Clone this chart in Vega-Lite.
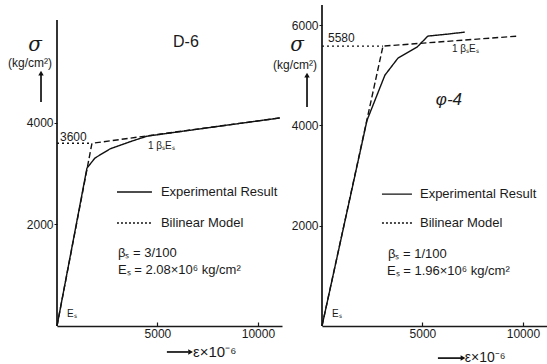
{
  "$schema": "https://vega.github.io/schema/vega-lite/v6.json",
  "padding": {"left": 8, "top": 4, "right": 0, "bottom": 0},
  "background": "white",
  "spacing": 40,
  "bounds": "flush",
  "config": {
    "view": {"stroke": null},
    "font": "Liberation Sans",
    "axis": {"grid": false, "format": "d", "labelFont": "Liberation Sans", "labelFontSize": 12, "labelColor": "#1a1a1a", "tickColor": "#1a1a1a", "domainColor": "#1a1a1a"},
    "axisX": {"domainWidth": 1.5, "tickSize": -4, "labelPadding": 6, "tickWidth": 1.2, "labelFlush": false},
    "axisY": {"domain": false, "tickSize": 3, "labelPadding": 1, "tickWidth": 1}
  },
  "datasets": {
    "lines": [
      {"panel": "D-6", "series": "exp", "strain": 0, "stress": 0},
      {"panel": "D-6", "series": "exp", "strain": 1490, "stress": 3110},
      {"panel": "D-6", "series": "exp", "strain": 1890, "stress": 3310},
      {"panel": "D-6", "series": "exp", "strain": 2640, "stress": 3490},
      {"panel": "D-6", "series": "exp", "strain": 3630, "stress": 3630},
      {"panel": "D-6", "series": "exp", "strain": 4480, "stress": 3740},
      {"panel": "D-6", "series": "exp", "strain": 7500, "stress": 3905},
      {"panel": "D-6", "series": "exp", "strain": 11100, "stress": 4100},
      {"panel": "D-6", "series": "bilin", "strain": 0, "stress": 0},
      {"panel": "D-6", "series": "bilin", "strain": 1740, "stress": 3600},
      {"panel": "D-6", "series": "bilin", "strain": 11100, "stress": 4100},
      {"panel": "D-6", "series": "ref", "strain": 0, "stress": 3600},
      {"panel": "D-6", "series": "ref", "strain": 1740, "stress": 3600},
      {"panel": "D-6", "series": "legExp", "strain": 2985, "stress": 2640},
      {"panel": "D-6", "series": "legExp", "strain": 4726, "stress": 2640},
      {"panel": "D-6", "series": "legBil", "strain": 2985, "stress": 2030},
      {"panel": "D-6", "series": "legBil", "strain": 4726, "stress": 2030},
      {"panel": "φ-4", "series": "exp", "strain": 0, "stress": 0},
      {"panel": "φ-4", "series": "exp", "strain": 2240, "stress": 4100},
      {"panel": "φ-4", "series": "exp", "strain": 3130, "stress": 5000},
      {"panel": "φ-4", "series": "exp", "strain": 3780, "stress": 5340},
      {"panel": "φ-4", "series": "exp", "strain": 4730, "stress": 5560},
      {"panel": "φ-4", "series": "exp", "strain": 5270, "stress": 5780},
      {"panel": "φ-4", "series": "exp", "strain": 6270, "stress": 5820},
      {"panel": "φ-4", "series": "exp", "strain": 7110, "stress": 5860},
      {"panel": "φ-4", "series": "bilin", "strain": 0, "stress": 0},
      {"panel": "φ-4", "series": "bilin", "strain": 3035, "stress": 5580},
      {"panel": "φ-4", "series": "bilin", "strain": 9750, "stress": 5780},
      {"panel": "φ-4", "series": "ref", "strain": 0, "stress": 5580},
      {"panel": "φ-4", "series": "ref", "strain": 3035, "stress": 5580},
      {"panel": "φ-4", "series": "legExp", "strain": 2985, "stress": 2630},
      {"panel": "φ-4", "series": "legExp", "strain": 4478, "stress": 2630},
      {"panel": "φ-4", "series": "legBil", "strain": 2985, "stress": 2053},
      {"panel": "φ-4", "series": "legBil", "strain": 4478, "stress": 2053}
    ],
    "rules": [
      {"panel": "D-6", "kind": "yaxis", "strain": 0, "stress": 0, "strain2": 0, "stress2": 6030},
      {"panel": "D-6", "kind": "yarrow", "strain": -796, "stress": 4414, "strain2": -796, "stress2": 4960},
      {"panel": "D-6", "kind": "xarrow", "strain": 5470, "stress": -512, "strain2": 6550, "stress2": -512},
      {"panel": "φ-4", "kind": "yaxis", "strain": 0, "stress": 0, "strain2": 0, "stress2": 6400},
      {"panel": "φ-4", "kind": "yarrow", "strain": -746, "stress": 4365, "strain2": -746, "stress2": 4980},
      {"panel": "φ-4", "kind": "xarrow", "strain": 5770, "stress": -640, "strain2": 6920, "stress2": -640}
    ],
    "heads": [
      {"panel": "D-6", "dir": "up", "strain": -796, "stress": 4985},
      {"panel": "D-6", "dir": "right", "strain": 6650, "stress": -512},
      {"panel": "φ-4", "dir": "up", "strain": -746, "stress": 5003},
      {"panel": "φ-4", "dir": "right", "strain": 7020, "stress": -640}
    ],
    "notes": [
      {"panel": "D-6", "role": "title", "label": "D-6", "strain": 6418, "stress": 5596},
      {"panel": "D-6", "role": "tick", "label": "3600", "strain": 150, "stress": 3724},
      {"panel": "D-6", "role": "small", "label": "1  βₛEₛ", "strain": 4530, "stress": 3540},
      {"panel": "D-6", "role": "small", "label": "Eₛ", "strain": 500, "stress": 236},
      {"panel": "D-6", "role": "note", "label": "Experimental Result", "strain": 5174, "stress": 2640},
      {"panel": "D-6", "role": "note", "label": "Bilinear Model", "strain": 5174, "stress": 2030},
      {"panel": "D-6", "role": "note", "label": "βₛ = 3/100", "strain": 3035, "stress": 1438},
      {"panel": "D-6", "role": "note", "label": "Eₛ = 2.08×10⁶ kg/cm²", "strain": 3035, "stress": 1103},
      {"panel": "D-6", "role": "sigma", "label": "σ", "strain": -1095, "stress": 5537},
      {"panel": "D-6", "role": "unit", "label": "(kg/cm²)", "strain": -1343, "stress": 5182},
      {"panel": "D-6", "role": "eps", "label": "ε×10⁻⁶", "strain": 6770, "stress": -512},
      {"panel": "φ-4", "role": "title", "label": "φ-4", "strain": 6318, "stress": 4505},
      {"panel": "φ-4", "role": "tick", "label": "5580", "strain": 300, "stress": 5740},
      {"panel": "φ-4", "role": "small", "label": "1  βₛEₛ", "strain": 6468, "stress": 5530},
      {"panel": "φ-4", "role": "small", "label": "Eₛ", "strain": 500, "stress": 240},
      {"panel": "φ-4", "role": "note", "label": "Experimental Result", "strain": 4876, "stress": 2631},
      {"panel": "φ-4", "role": "note", "label": "Bilinear Model", "strain": 4876, "stress": 2053},
      {"panel": "φ-4", "role": "note", "label": "βₛ = 1/100", "strain": 3284, "stress": 1435},
      {"panel": "φ-4", "role": "note", "label": "Eₛ = 1.96×10⁶ kg/cm²", "strain": 3234, "stress": 1096},
      {"panel": "φ-4", "role": "sigma", "label": "σ", "strain": -1244, "stress": 5601},
      {"panel": "φ-4", "role": "unit", "label": "(kg/cm²)", "strain": -1340, "stress": 5202},
      {"panel": "φ-4", "role": "eps", "label": "ε×10⁻⁶", "strain": 7110, "stress": -640}
    ]
  },
  "hconcat": [
    {
      "width": 225,
      "height": 321,
      "encoding": {
        "x": {"field": "strain", "type": "quantitative", "scale": {"domain": [0, 11200], "nice": false, "zero": false}, "axis": {"values": [5000, 10000]}, "title": null},
        "y": {"field": "stress", "type": "quantitative", "scale": {"domain": [0, 6325], "nice": false, "zero": false}, "axis": {"values": [2000, 4000]}, "title": null}
      },
      "layer": [
        {"data": {"name": "lines"}, "transform": [{"filter": "datum.panel==='D-6'"}], "mark": {"type": "line", "color": "#111", "strokeWidth": 1.4},
         "encoding": {"strokeDash": {"field": "series", "type": "nominal", "scale": {"domain": ["exp", "bilin", "ref", "legExp", "legBil"], "range": [[1, 0], [6, 3], [2, 3], [1, 0], [2, 2]]}, "legend": null}}},
        {"data": {"name": "rules"}, "transform": [{"filter": "datum.panel==='D-6'"}], "mark": {"type": "rule", "color": "#111", "strokeWidth": 1.7},
         "encoding": {"x2": {"field": "strain2"}, "y2": {"field": "stress2"}}},
        {"data": {"name": "heads"}, "transform": [{"filter": "datum.panel==='D-6'"}], "mark": {"type": "point", "filled": true, "color": "#111", "size": 30, "opacity": 1},
         "encoding": {"shape": {"field": "dir", "type": "nominal", "scale": {"domain": ["up", "right"], "range": ["triangle-up", "triangle-right"]}, "legend": null}}},
        {"data": {"name": "notes"}, "transform": [{"filter": "datum.panel==='D-6' && datum.role==='title'"}], "mark": {"type": "text", "align": "center", "baseline": "middle", "fontSize": 16, "color": "#1a1a1a"}, "encoding": {"text": {"field": "label"}}},
        {"data": {"name": "notes"}, "transform": [{"filter": "datum.panel==='D-6' && datum.role==='tick'"}], "mark": {"type": "text", "align": "left", "baseline": "middle", "fontSize": 12, "color": "#1a1a1a"}, "encoding": {"text": {"field": "label"}}},
        {"data": {"name": "notes"}, "transform": [{"filter": "datum.panel==='D-6' && datum.role==='small'"}], "mark": {"type": "text", "align": "left", "baseline": "middle", "fontSize": 10, "color": "#1a1a1a"}, "encoding": {"text": {"field": "label"}}},
        {"data": {"name": "notes"}, "transform": [{"filter": "datum.panel==='D-6' && datum.role==='note'"}], "mark": {"type": "text", "align": "left", "baseline": "middle", "fontSize": 13, "color": "#1a1a1a"}, "encoding": {"text": {"field": "label"}}},
        {"data": {"name": "notes"}, "transform": [{"filter": "datum.panel==='D-6' && datum.role==='sigma'"}], "mark": {"type": "text", "align": "center", "baseline": "middle", "fontSize": 20, "font": "DejaVu Serif", "fontStyle": "italic", "color": "#1a1a1a"}, "encoding": {"text": {"field": "label"}}},
        {"data": {"name": "notes"}, "transform": [{"filter": "datum.panel==='D-6' && datum.role==='unit'"}], "mark": {"type": "text", "align": "center", "baseline": "middle", "fontSize": 12, "color": "#1a1a1a"}, "encoding": {"text": {"field": "label"}}},
        {"data": {"name": "notes"}, "transform": [{"filter": "datum.panel==='D-6' && datum.role==='eps'"}], "mark": {"type": "text", "align": "left", "baseline": "middle", "fontSize": 15, "color": "#1a1a1a"}, "encoding": {"text": {"field": "label"}}}
      ]
    },
    {
      "width": 225,
      "height": 321,
      "encoding": {
        "x": {"field": "strain", "type": "quantitative", "scale": {"domain": [0, 11200], "nice": false, "zero": false}, "axis": {"values": [5000, 10000]}, "title": null},
        "y": {"field": "stress", "type": "quantitative", "scale": {"domain": [0, 6400], "nice": false, "zero": false}, "axis": {"values": [2000, 4000, 6000]}, "title": null}
      },
      "layer": [
        {"data": {"name": "lines"}, "transform": [{"filter": "datum.panel==='φ-4'"}], "mark": {"type": "line", "color": "#111", "strokeWidth": 1.4},
         "encoding": {"strokeDash": {"field": "series", "type": "nominal", "scale": {"domain": ["exp", "bilin", "ref", "legExp", "legBil"], "range": [[1, 0], [6, 3], [2, 3], [1, 0], [2, 2]]}, "legend": null}}},
        {"data": {"name": "rules"}, "transform": [{"filter": "datum.panel==='φ-4'"}], "mark": {"type": "rule", "color": "#111", "strokeWidth": 1.7},
         "encoding": {"x2": {"field": "strain2"}, "y2": {"field": "stress2"}}},
        {"data": {"name": "heads"}, "transform": [{"filter": "datum.panel==='φ-4'"}], "mark": {"type": "point", "filled": true, "color": "#111", "size": 30, "opacity": 1},
         "encoding": {"shape": {"field": "dir", "type": "nominal", "scale": {"domain": ["up", "right"], "range": ["triangle-up", "triangle-right"]}, "legend": null}}},
        {"data": {"name": "notes"}, "transform": [{"filter": "datum.panel==='φ-4' && datum.role==='title'"}], "mark": {"type": "text", "align": "center", "baseline": "middle", "fontSize": 17, "fontStyle": "italic", "color": "#1a1a1a"}, "encoding": {"text": {"field": "label"}}},
        {"data": {"name": "notes"}, "transform": [{"filter": "datum.panel==='φ-4' && datum.role==='tick'"}], "mark": {"type": "text", "align": "left", "baseline": "middle", "fontSize": 12, "color": "#1a1a1a"}, "encoding": {"text": {"field": "label"}}},
        {"data": {"name": "notes"}, "transform": [{"filter": "datum.panel==='φ-4' && datum.role==='small'"}], "mark": {"type": "text", "align": "left", "baseline": "middle", "fontSize": 10, "color": "#1a1a1a"}, "encoding": {"text": {"field": "label"}}},
        {"data": {"name": "notes"}, "transform": [{"filter": "datum.panel==='φ-4' && datum.role==='note'"}], "mark": {"type": "text", "align": "left", "baseline": "middle", "fontSize": 13, "color": "#1a1a1a"}, "encoding": {"text": {"field": "label"}}},
        {"data": {"name": "notes"}, "transform": [{"filter": "datum.panel==='φ-4' && datum.role==='sigma'"}], "mark": {"type": "text", "align": "center", "baseline": "middle", "fontSize": 20, "font": "DejaVu Serif", "fontStyle": "italic", "color": "#1a1a1a"}, "encoding": {"text": {"field": "label"}}},
        {"data": {"name": "notes"}, "transform": [{"filter": "datum.panel==='φ-4' && datum.role==='unit'"}], "mark": {"type": "text", "align": "center", "baseline": "middle", "fontSize": 12, "color": "#1a1a1a"}, "encoding": {"text": {"field": "label"}}},
        {"data": {"name": "notes"}, "transform": [{"filter": "datum.panel==='φ-4' && datum.role==='eps'"}], "mark": {"type": "text", "align": "left", "baseline": "middle", "fontSize": 14, "color": "#1a1a1a"}, "encoding": {"text": {"field": "label"}}}
      ]
    }
  ]
}
